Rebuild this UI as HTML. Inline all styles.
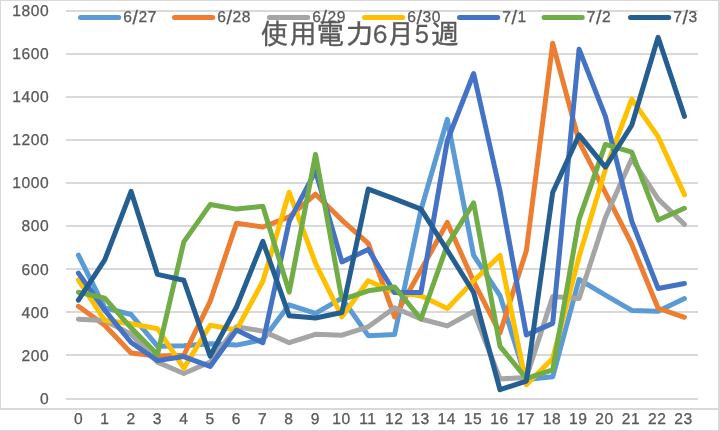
<!DOCTYPE html>
<html><head><meta charset="utf-8"><style>
html,body{margin:0;padding:0;background:#fff;}
body{width:720px;height:431px;overflow:hidden;position:relative;}
svg{position:absolute;left:0;top:0;display:block;will-change:transform;}
.ax{font-family:"Liberation Sans","Noto Sans CJK JP",sans-serif;font-size:15.6px;letter-spacing:0.6px;text-rendering:geometricPrecision;fill:#595959;stroke:#595959;stroke-width:0.3px;}
.ti{font-family:"IPAPGothic","IPAGothic","Noto Sans CJK JP",sans-serif;font-size:28px;fill:#595959;stroke:#595959;stroke-width:0.35px;}
</style></head><body>
<svg width="720" height="431" viewBox="0 0 720 431">
<rect x="0" y="0" width="720" height="431" fill="#fff"/>
<rect x="0" y="0" width="719" height="1" fill="#d9d9d9"/>
<rect x="0" y="0" width="1" height="409" fill="#d9d9d9"/>
<rect x="718" y="0" width="2" height="431" fill="#d9d9d9"/>
<rect x="0" y="408" width="719" height="2" fill="#d9d9d9"/>
<rect x="0" y="430" width="719" height="1" fill="#d9d9d9"/>
<rect x="66" y="10" width="632" height="2" fill="#d9d9d9"/>
<rect x="66" y="53" width="632" height="2" fill="#d9d9d9"/>
<rect x="66" y="96" width="632" height="2" fill="#d9d9d9"/>
<rect x="66" y="139" width="632" height="2" fill="#d9d9d9"/>
<rect x="66" y="182" width="632" height="2" fill="#d9d9d9"/>
<rect x="66" y="225" width="632" height="2" fill="#d9d9d9"/>
<rect x="66" y="268" width="632" height="2" fill="#d9d9d9"/>
<rect x="66" y="311" width="632" height="2" fill="#d9d9d9"/>
<rect x="66" y="354" width="632" height="2" fill="#d9d9d9"/>
<rect x="66" y="398" width="632" height="2" fill="#d9d9d9"/>
<text transform="translate(49.4 15.90) scale(1 1)" text-anchor="end" class="ax">1800</text>
<text transform="translate(49.4 59.01) scale(1 1)" text-anchor="end" class="ax">1600</text>
<text transform="translate(49.4 102.12) scale(1 1)" text-anchor="end" class="ax">1400</text>
<text transform="translate(49.4 145.23) scale(1 1)" text-anchor="end" class="ax">1200</text>
<text transform="translate(49.4 188.34) scale(1 1)" text-anchor="end" class="ax">1000</text>
<text transform="translate(49.4 231.46) scale(1 1)" text-anchor="end" class="ax">800</text>
<text transform="translate(49.4 274.57) scale(1 1)" text-anchor="end" class="ax">600</text>
<text transform="translate(49.4 317.68) scale(1 1)" text-anchor="end" class="ax">400</text>
<text transform="translate(49.4 360.79) scale(1 1)" text-anchor="end" class="ax">200</text>
<text transform="translate(49.4 403.90) scale(1 1)" text-anchor="end" class="ax">0</text>
<text transform="translate(78.60 423.8) scale(1 1)" text-anchor="middle" class="ax">0</text>
<text transform="translate(104.90 423.8) scale(1 1)" text-anchor="middle" class="ax">1</text>
<text transform="translate(131.20 423.8) scale(1 1)" text-anchor="middle" class="ax">2</text>
<text transform="translate(157.50 423.8) scale(1 1)" text-anchor="middle" class="ax">3</text>
<text transform="translate(183.80 423.8) scale(1 1)" text-anchor="middle" class="ax">4</text>
<text transform="translate(210.10 423.8) scale(1 1)" text-anchor="middle" class="ax">5</text>
<text transform="translate(236.40 423.8) scale(1 1)" text-anchor="middle" class="ax">6</text>
<text transform="translate(262.70 423.8) scale(1 1)" text-anchor="middle" class="ax">7</text>
<text transform="translate(289.00 423.8) scale(1 1)" text-anchor="middle" class="ax">8</text>
<text transform="translate(315.30 423.8) scale(1 1)" text-anchor="middle" class="ax">9</text>
<text transform="translate(341.60 423.8) scale(1 1)" text-anchor="middle" class="ax">10</text>
<text transform="translate(367.90 423.8) scale(1 1)" text-anchor="middle" class="ax">11</text>
<text transform="translate(394.20 423.8) scale(1 1)" text-anchor="middle" class="ax">12</text>
<text transform="translate(420.50 423.8) scale(1 1)" text-anchor="middle" class="ax">13</text>
<text transform="translate(446.80 423.8) scale(1 1)" text-anchor="middle" class="ax">14</text>
<text transform="translate(473.10 423.8) scale(1 1)" text-anchor="middle" class="ax">15</text>
<text transform="translate(499.40 423.8) scale(1 1)" text-anchor="middle" class="ax">16</text>
<text transform="translate(525.70 423.8) scale(1 1)" text-anchor="middle" class="ax">17</text>
<text transform="translate(552.00 423.8) scale(1 1)" text-anchor="middle" class="ax">18</text>
<text transform="translate(578.30 423.8) scale(1 1)" text-anchor="middle" class="ax">19</text>
<text transform="translate(604.60 423.8) scale(1 1)" text-anchor="middle" class="ax">20</text>
<text transform="translate(630.90 423.8) scale(1 1)" text-anchor="middle" class="ax">21</text>
<text transform="translate(657.20 423.8) scale(1 1)" text-anchor="middle" class="ax">22</text>
<text transform="translate(683.50 423.8) scale(1 1)" text-anchor="middle" class="ax">23</text>
<polyline points="78.40,255.22 104.75,307.82 131.10,314.50 157.45,346.19 183.80,345.76 210.15,343.82 236.50,345.11 262.85,339.72 289.20,304.80 315.55,313.42 341.90,298.12 368.25,335.63 394.60,334.55 420.95,209.96 447.30,119.42 473.65,255.44 500.00,295.53 526.35,379.60 552.70,376.80 579.05,279.37 605.40,295.10 631.75,310.41 658.10,311.27 684.45,298.55" fill="none" stroke="#5B9BD5" stroke-width="5" stroke-linejoin="round" stroke-linecap="round"/>
<polyline points="78.40,306.31 104.75,325.28 131.10,353.09 157.45,356.10 183.80,355.24 210.15,301.35 236.50,223.32 262.85,226.99 289.20,216.86 315.55,194.22 341.90,220.09 368.25,243.37 394.60,316.87 420.95,270.10 447.30,222.46 473.65,281.52 500.00,333.04 526.35,250.70 552.70,43.33 579.05,141.41 605.40,192.71 631.75,244.23 658.10,308.25 684.45,317.30" fill="none" stroke="#ED7D31" stroke-width="5" stroke-linejoin="round" stroke-linecap="round"/>
<polyline points="78.40,319.24 104.75,320.54 131.10,334.33 157.45,362.14 183.80,373.56 210.15,361.92 236.50,326.79 262.85,331.10 289.20,342.74 315.55,334.33 341.90,335.20 368.25,326.79 394.60,307.82 420.95,319.03 447.30,325.93 473.65,311.48 500.00,378.95 526.35,377.44 552.70,296.61 579.05,298.55 605.40,217.50 631.75,158.66 658.10,198.96 684.45,224.40" fill="none" stroke="#A5A5A5" stroke-width="5" stroke-linejoin="round" stroke-linecap="round"/>
<polyline points="78.40,279.80 104.75,320.32 131.10,323.77 157.45,328.73 183.80,368.18 210.15,325.28 236.50,330.02 262.85,281.31 289.20,192.28 315.55,263.42 341.90,316.87 368.25,280.66 394.60,292.52 420.95,295.75 447.30,308.47 473.65,280.88 500.00,255.44 526.35,384.77 552.70,358.48 579.05,256.73 605.40,169.43 631.75,99.16 658.10,136.67 684.45,194.65" fill="none" stroke="#FFC000" stroke-width="5" stroke-linejoin="round" stroke-linecap="round"/>
<polyline points="78.40,273.12 104.75,310.19 131.10,342.52 157.45,360.63 183.80,356.54 210.15,366.45 236.50,330.02 262.85,342.74 289.20,221.38 315.55,171.16 341.90,261.91 368.25,249.40 394.60,292.52 420.95,292.52 447.30,140.76 473.65,73.51 500.00,190.99 526.35,334.98 552.70,323.34 579.05,49.15 605.40,116.41 631.75,221.17 658.10,288.42 684.45,283.46" fill="none" stroke="#4472C4" stroke-width="5" stroke-linejoin="round" stroke-linecap="round"/>
<polyline points="78.40,292.30 104.75,298.12 131.10,327.87 157.45,354.60 183.80,241.86 210.15,204.57 236.50,209.10 262.85,206.29 289.20,292.08 315.55,154.34 341.90,299.63 368.25,290.79 394.60,286.91 420.95,319.03 447.30,244.88 473.65,202.84 500.00,346.40 526.35,378.31 552.70,369.90 579.05,219.44 605.40,144.43 631.75,152.19 658.10,220.09 684.45,208.23" fill="none" stroke="#70AD47" stroke-width="5" stroke-linejoin="round" stroke-linecap="round"/>
<polyline points="78.40,300.06 104.75,259.97 131.10,191.42 157.45,274.41 183.80,280.23 210.15,356.10 236.50,306.96 262.85,241.43 289.20,315.80 315.55,317.95 341.90,312.56 368.25,189.05 394.60,198.96 420.95,209.10 447.30,250.27 473.65,292.52 500.00,389.73 526.35,381.11 552.70,192.50 579.05,134.94 605.40,167.06 631.75,125.24 658.10,37.30 684.45,116.41" fill="none" stroke="#255E91" stroke-width="5" stroke-linejoin="round" stroke-linecap="round"/>
<line x1="80.5" y1="17.5" x2="118.7" y2="17.5" stroke="#5B9BD5" stroke-width="5" stroke-linecap="round"/>
<text transform="translate(123.3 21.9) scale(1 1)" class="ax" style="letter-spacing:0.55px">6<tspan dy="1.6" style="font-size:19.5px">/</tspan><tspan dy="-1.6">27</tspan></text>
<line x1="174.5" y1="17.5" x2="212.7" y2="17.5" stroke="#ED7D31" stroke-width="5" stroke-linecap="round"/>
<text transform="translate(217.3 21.9) scale(1 1)" class="ax" style="letter-spacing:0.55px">6<tspan dy="1.6" style="font-size:19.5px">/</tspan><tspan dy="-1.6">28</tspan></text>
<line x1="269.5" y1="17.5" x2="307.7" y2="17.5" stroke="#A5A5A5" stroke-width="5" stroke-linecap="round"/>
<text transform="translate(312.3 21.9) scale(1 1)" class="ax" style="letter-spacing:0.55px">6<tspan dy="1.6" style="font-size:19.5px">/</tspan><tspan dy="-1.6">29</tspan></text>
<line x1="364.5" y1="17.5" x2="402.7" y2="17.5" stroke="#FFC000" stroke-width="5" stroke-linecap="round"/>
<text transform="translate(407.3 21.9) scale(1 1)" class="ax" style="letter-spacing:0.55px">6<tspan dy="1.6" style="font-size:19.5px">/</tspan><tspan dy="-1.6">30</tspan></text>
<line x1="459.5" y1="17.5" x2="497.7" y2="17.5" stroke="#4472C4" stroke-width="5" stroke-linecap="round"/>
<text transform="translate(502.3 21.9) scale(1 1)" class="ax" style="letter-spacing:0.55px">7<tspan dy="1.6" style="font-size:19.5px">/</tspan><tspan dy="-1.6">1</tspan></text>
<line x1="544.0" y1="17.5" x2="582.2" y2="17.5" stroke="#70AD47" stroke-width="5" stroke-linecap="round"/>
<text transform="translate(586.8 21.9) scale(1 1)" class="ax" style="letter-spacing:0.55px">7<tspan dy="1.6" style="font-size:19.5px">/</tspan><tspan dy="-1.6">2</tspan></text>
<line x1="630.5" y1="17.5" x2="668.7" y2="17.5" stroke="#255E91" stroke-width="5" stroke-linecap="round"/>
<text transform="translate(673.3 21.9) scale(1 1)" class="ax" style="letter-spacing:0.55px">7<tspan dy="1.6" style="font-size:19.5px">/</tspan><tspan dy="-1.6">3</tspan></text>
<text x="260.2 289.3 316 345.6" y="43.5" class="ti">使用電力</text>
<text x="372.3" y="42.7" class="ti" style="font-size:24.4px">6</text>
<text x="386.5" y="43.5" class="ti">月</text>
<text x="413.9" y="42.7" class="ti" style="font-size:24.4px">5</text>
<text x="431" y="43.5" class="ti">週</text>
</svg>
</body></html>
